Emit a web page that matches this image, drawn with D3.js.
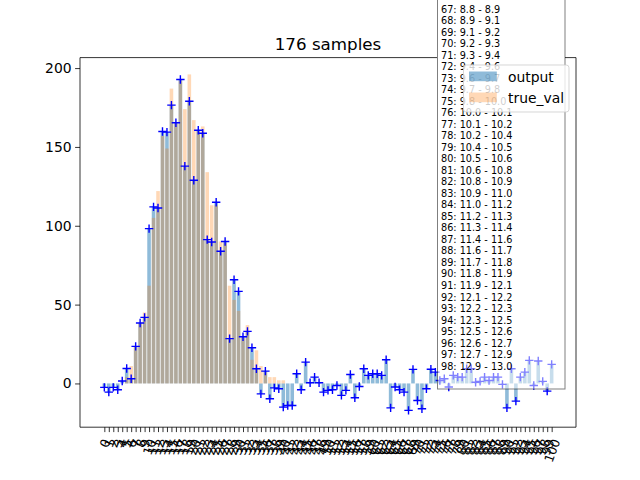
<!DOCTYPE html>
<html>
<head>
<meta charset="utf-8">
<script src="https://cdn.jsdelivr.net/npm/d3@7"></script>
<style>
body { margin: 0; background: white; }
svg text { font-family: "DejaVu Sans", sans-serif; }
</style>
</head>
<body>
<svg width="640" height="480"></svg>
<script>
var title = "176 samples";
var categories = [0,1,2,3,4,5,6,7,8,9,10,11,12,13,14,15,16,17,18,19,20,21,22,23,24,25,26,27,28,29,30,31,32,33,34,35,36,37,38,39,40,41,42,43,44,45,46,47,48,49,50,51,52,53,54,55,56,57,58,59,60,61,62,63,64,65,66,67,68,69,70,71,72,73,74,75,76,77,78,79,80,81,82,83,84,85,86,87,88,89,90,91,92,93,94,95,96,97,98,99,100];
var output = [-2.5,-5.5,-2.5,-4,1.5,9.5,3,23.5,38.3,41.9,98.2,112,111.3,159.8,159.4,176.5,165.3,192.8,137.8,179,128.9,160.6,158.7,91.2,89.7,114.9,83.8,90,28.4,65.8,58.4,29.6,33,
    22.6,9.3,-6.6,7.8,-9.7,-2.8,-3.4,-15,-14,-14,6.1,-4,13.5,0.4,4,0.4,-5.5,-4.4,-4,-1.3,-7.6,-4.4,5.7,-9.1,-1.9,9.3,5.1,6.1,6.1,5.1,15,-15.5,-2.3,-4,-5.5,-17.1,8.9,-10.8,-16.1,-3.4,
    9,7.2,1.9,3,-2.3,5.1,4,4,9.3,9.3,0.8,1.3,4,1.9,4,4,-0.6,-15.5,9.3,-11.2,4,7.2,14.6,-1.3,14.2,1.3,-4.9,12.1];
var trueVal = [0,0,0,0,0,4,11,23,38,45,62,105,122,157,149,187,165,192,174,196,167,160,163,134,113,113,90,89,62,53,46,29,37,
    15,21,11,7,4,4,2,2,0,0,0,0,0,0,0,0,0,0,0,0,0,0,0,0,0,0,0,0,0,0,0,0,0,0,0,0,0,0,0,0,
    0,0,0,0,0,0,0,0,0,0,0,0,0,0,0,0,0,0,0,0,0,0,0,0,0,0,0,0];
var yTicks = [0,50,100,150,200];
var seriesNames = ["output","true_val"];
var binLines = ["67: 8.8 - 8.9","68: 8.9 - 9.1","69: 9.1 - 9.2","70: 9.2 - 9.3","71: 9.3 - 9.4",
    "72: 9.4 - 9.6","73: 9.6 - 9.7","74: 9.7 - 9.8","75: 9.8 - 10.0","76: 10.0 - 10.1",
    "77: 10.1 - 10.2","78: 10.2 - 10.4","79: 10.4 - 10.5","80: 10.5 - 10.6","81: 10.6 - 10.8",
    "82: 10.8 - 10.9","83: 10.9 - 11.0","84: 11.0 - 11.2","85: 11.2 - 11.3","86: 11.3 - 11.4",
    "87: 11.4 - 11.6","88: 11.6 - 11.7","89: 11.7 - 11.8","90: 11.8 - 11.9","91: 11.9 - 12.1",
    "92: 12.1 - 12.2","93: 12.2 - 12.3","94: 12.3 - 12.5","95: 12.5 - 12.6","96: 12.6 - 12.7",
    "97: 12.7 - 12.9","98: 12.9 - 13.0"];

// plot area (window.top is read only, so no bare "top")
var padL = 80, padR = 576, padT = 57.6, padB = 427.2;
var blue = "#1f77b4", orange = "#ff7f0e";

var svg = d3.select("svg");

// matplotlib style 5% margins
var barW = 0.8;
var xlo = -barW/2, xhi = categories.length - 1 + barW/2;
var xpad = (xhi - xlo) * 0.05;
var x = d3.scaleLinear().domain([xlo - xpad, xhi + xpad]).range([padL, padR]);

var ymin = d3.min([0, d3.min(output), d3.min(trueVal)]);
var ymax = d3.max([0, d3.max(output), d3.max(trueVal)]);
var ypad = (ymax - ymin) * 0.05;
var y = d3.scaleLinear().domain([ymin - ypad, ymax + ypad]).range([padB, padT]);

var data = categories.map(function(c, i) { return {c: c, out: output[i], tv: trueVal[i]}; });

function bars(key, color, op) {
    svg.append("g").selectAll("rect")
        .data(data)
        .enter().append("rect")
        .attr("x", function(d) { return x(d.c - barW/2); })
        .attr("width", x(barW) - x(0))
        .attr("y", function(d) { return y(Math.max(0, d[key])); })
        .attr("height", function(d) { return Math.abs(y(d[key]) - y(0)); })
        .style("fill", color)
        .style("fill-opacity", op);
}
bars("out", blue, 0.5);
bars("tv", orange, 0.3);

svg.append("g").selectAll("path")
    .data(data)
    .enter().append("path")
    .attr("d", function(d) {
        var px = x(d.c), py = y(d.out);
        return "M" + (px-4.2) + "," + py + "H" + (px+4.2) + "M" + px + "," + (py-4.2) + "V" + (py+4.2);
    })
    .style("stroke", "#0000ff")
    .style("stroke-width", 1.4)
    .style("fill", "none");

// axes with d3 axis generators
var xAxis = svg.append("g")
    .attr("transform", "translate(0," + padB + ")")
    .call(d3.axisBottom(x).tickValues(categories).tickSize(4.9).tickPadding(4.9).tickSizeOuter(0));
xAxis.select(".domain").remove();
xAxis.selectAll("line").style("stroke", "black").style("stroke-width", 0.8);
xAxis.selectAll("text")
    .style("font-size", "12.5px")
    .style("fill", "black")
    .attr("text-anchor", "middle")
    .attr("dy", null)
    .attr("y", null)
    .attr("dominant-baseline", "central")
    .attr("transform", function() {
        var w = this.getComputedTextLength(), h = 14;
        var a = 70 * Math.PI / 180;
        var ext = w * Math.sin(a) + h * Math.cos(a);
        return "translate(0," + (9.8 + ext/2) + ") rotate(-70)";
    });

var yAxis = svg.append("g")
    .attr("transform", "translate(" + padL + ",0)")
    .call(d3.axisLeft(y).tickValues(yTicks).tickSize(4.9).tickPadding(3.5).tickSizeOuter(0));
yAxis.select(".domain").remove();
yAxis.selectAll("line").style("stroke", "black").style("stroke-width", 0.8);
yAxis.selectAll("text").style("font-size", "13.9px").style("fill", "black");

// spines (top one hidden under the text box)
var spines = svg.append("g").style("stroke", "black").style("stroke-width", 0.8).style("fill", "none");
spines.append("line").attr("x1", padL).attr("x2", padL).attr("y1", padT).attr("y2", padB);
spines.append("line").attr("x1", padR).attr("x2", padR).attr("y1", padT).attr("y2", padB);
spines.append("line").attr("x1", padL).attr("x2", padR).attr("y1", padB).attr("y2", padB);
spines.append("line").attr("x1", padL).attr("x2", 437).attr("y1", padT).attr("y2", padT);
spines.append("line").attr("x1", 565).attr("x2", padR).attr("y1", padT).attr("y2", padT);

svg.append("text")
    .attr("x", (padL + padR) / 2)
    .attr("y", 49.5)
    .attr("text-anchor", "middle")
    .style("font-size", "16.7px")
    .text(title);

// bin text box, runs off the top of the figure
var boxG = svg.append("g");
boxG.append("rect")
    .attr("x", 437.5).attr("y", -400)
    .attr("width", 127.5).attr("height", 789)
    .style("fill", "white").style("fill-opacity", 0.5)
    .style("stroke", "black").style("stroke-opacity", 0.5).style("stroke-width", 1);
boxG.selectAll("text")
    .data(binLines)
    .enter().append("text")
    .attr("x", 441)
    .attr("y", function(d, i) { return 12.5 + i * 11.52; })
    .style("font-size", "9.7px")
    .text(function(d) { return d; });

// legend
var leg = svg.append("g");
leg.append("rect")
    .attr("x", 463.5).attr("y", 65)
    .attr("width", 105.5).attr("height", 47)
    .attr("rx", 2.8)
    .style("fill", "white").style("fill-opacity", 0.8)
    .style("stroke", "#cccccc").style("stroke-opacity", 0.8).style("stroke-width", 1);
var legColors = [[blue, 0.5], [orange, 0.3]];
seriesNames.forEach(function(n, i) {
    leg.append("rect")
        .attr("x", 469).attr("y", 71.5 + i * 21)
        .attr("width", 27.8).attr("height", 9.7)
        .style("fill", legColors[i][0]).style("fill-opacity", legColors[i][1]);
    leg.append("text")
        .attr("x", 508).attr("y", 81.5 + i * 21)
        .style("font-size", "13.9px")
        .text(n);
});
</script>
</body>
</html>
